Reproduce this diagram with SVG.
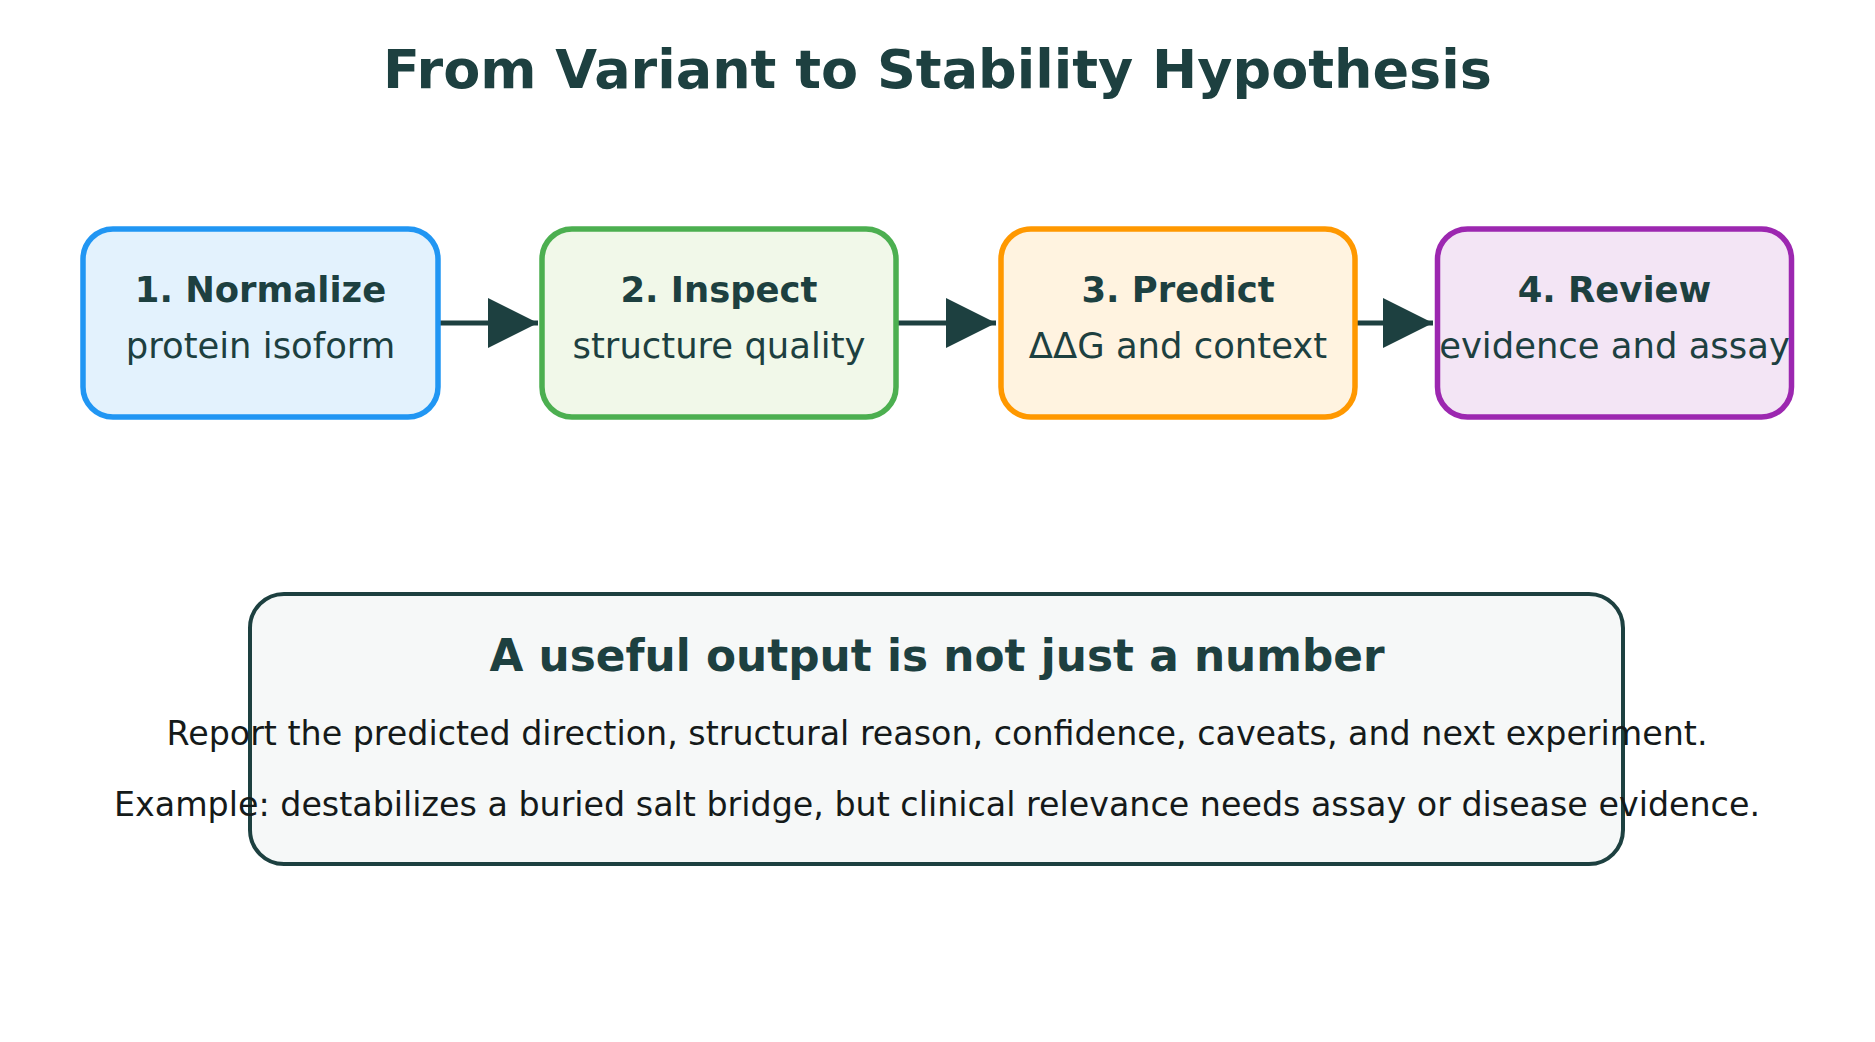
<svg xmlns="http://www.w3.org/2000/svg" width="1875" height="1042" viewBox="0 0 1875 1042">
<style>
text{font-family:"DejaVu Sans",Verdana,sans-serif;text-anchor:middle}
.title{font-size:54px;font-weight:bold;fill:#1d4040}
.nt{font-size:35.4px;font-weight:bold;fill:#1d4040}
.ns{font-size:35.4px;fill:#1d4040}
.node{stroke-width:5.5}
.conn{stroke:#1d4040;stroke-width:5;fill:none;marker-end:url(#arr)}
.bh{font-size:43.8px;font-weight:bold;fill:#1d4040}
.bt{font-size:33.3px;fill:#151a1a}
</style>
<defs>
<marker id="arr" viewBox="0 0 10 10" refX="10" refY="5" markerWidth="10" markerHeight="10" orient="auto" markerUnits="strokeWidth">
<path d="M0,0 L10,5 L0,10 z" fill="#1d4040"/>
</marker>
</defs>
<rect width="1875" height="1042" fill="#ffffff"/>
<text class="title" x="937.5" y="88">From Variant to Stability Hypothesis</text>
<g id="connectors">
<line class="conn" x1="438" y1="323" x2="538" y2="323"/>
<line class="conn" x1="896" y1="323" x2="996" y2="323"/>
<line class="conn" x1="1354" y1="323" x2="1433" y2="323"/>
</g>
<g id="node1">
<rect class="node" x="83" y="229" width="355" height="188" rx="30" fill="#e3f2fd" stroke="#2196f3"/>
<text class="nt" x="260.5" y="302">1. Normalize</text>
<text class="ns" x="260.5" y="358">protein isoform</text>
</g>
<g id="node2">
<rect class="node" x="542" y="229" width="354" height="188" rx="30" fill="#f1f8e9" stroke="#4caf50"/>
<text class="nt" x="719" y="302">2. Inspect</text>
<text class="ns" x="719" y="358">structure quality</text>
</g>
<g id="node3">
<rect class="node" x="1001" y="229" width="354" height="188" rx="30" fill="#fff3e0" stroke="#ff9800"/>
<text class="nt" x="1178" y="302">3. Predict</text>
<text class="ns" x="1178" y="358">ΔΔG and context</text>
</g>
<g id="node4">
<rect class="node" x="1437.5" y="229" width="354" height="188" rx="30" fill="#f3e5f5" stroke="#9c27b0"/>
<text class="nt" x="1614.5" y="302">4. Review</text>
<text class="ns" x="1614.5" y="358">evidence and assay</text>
</g>
<g id="summary">
<rect x="250" y="594" width="1373" height="270" rx="34" fill="#f6f8f8" stroke="#1d4040" stroke-width="4"/>
<text class="bh" x="937" y="671">A useful output is not just a number</text>
<text class="bt" x="937" y="745">Report the predicted direction, structural reason, confidence, caveats, and next experiment.</text>
<text class="bt" x="937" y="816">Example: destabilizes a buried salt bridge, but clinical relevance needs assay or disease evidence.</text>
</g>
</svg>
